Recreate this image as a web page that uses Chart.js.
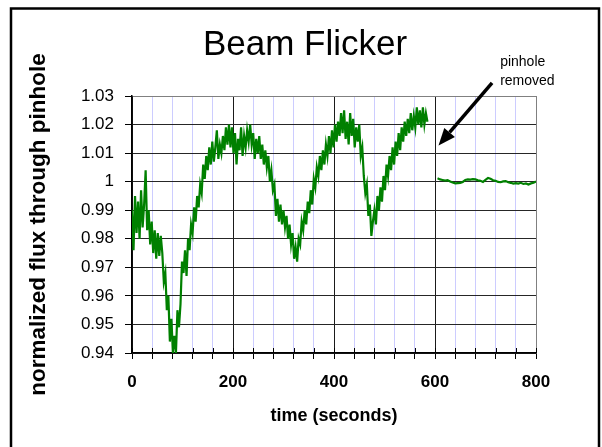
<!DOCTYPE html>
<html>
<head>
<meta charset="utf-8">
<title>Beam Flicker</title>
<script src="https://cdn.jsdelivr.net/npm/chart.js@4.4.1/dist/chart.umd.min.js"></script>
<style>
  html, body { margin: 0; padding: 0; background: #fff; }
  #wrap { position: relative; width: 602px; height: 447px; }
</style>
</head>
<body>
<div id="wrap"><canvas id="flickerChart" width="602" height="447"></canvas></div>
<script>
// flux through the pinhole, one reading every 3 s starting at t = 0
const pinholeStart = 0;
const pinholeStep = 3;
const pinholeFlux = [
  0.990, 0.976, 0.995, 0.982, 0.993, 0.980, 0.997, 0.984, 0.992, 1.004,
  0.983, 0.990, 0.978, 0.986, 0.975, 0.983, 0.973, 0.982, 0.974, 0.981,
  0.975, 0.965, 0.968, 0.955, 0.960, 0.944, 0.952, 0.940, 0.946, 0.940,
  0.955, 0.949, 0.957, 0.972, 0.968, 0.976, 0.967, 0.980, 0.976, 0.985,
  0.982, 0.991, 0.986, 0.995, 0.991, 0.999, 0.996, 1.006, 1.001, 1.009,
  1.004, 1.012, 1.006, 1.014, 1.007, 1.012, 1.018, 1.008, 1.013, 1.010,
  1.016, 1.011, 1.019, 1.013, 1.020, 1.012, 1.019, 1.010, 1.017, 1.006,
  1.015, 1.011, 1.019, 1.009, 1.016, 1.012, 1.018, 1.014, 1.020, 1.013,
  1.017, 1.008, 1.015, 1.010, 1.016, 1.008, 1.013, 1.006, 1.011, 1.005,
  1.009, 1.000, 1.004, 0.997, 0.999, 0.988, 0.994, 0.986, 0.992, 0.985,
  0.990, 0.984, 0.988, 0.980, 0.985, 0.978, 0.982, 0.973, 0.977, 0.972,
  0.980, 0.978, 0.986, 0.983, 0.990, 0.985, 0.993, 0.989, 0.997, 0.992,
  1.001, 0.998, 1.005, 1.002, 1.009, 1.004, 1.011, 1.006, 1.013, 1.009,
  1.016, 1.010, 1.018, 1.012, 1.020, 1.014, 1.021, 1.016, 1.024, 1.017,
  1.025, 1.015, 1.021, 1.013, 1.024, 1.016, 1.022, 1.012, 1.019, 1.014,
  1.020, 1.009, 1.012, 1.002, 0.996, 0.999, 0.988, 0.992, 0.981, 0.986,
  0.990, 0.985, 0.995, 0.990, 0.998, 0.993, 1.002, 0.997, 1.006, 1.002,
  1.009, 1.004, 1.012, 1.006, 1.014, 1.009, 1.017, 1.011, 1.019, 1.014,
  1.021, 1.016, 1.022, 1.017, 1.024, 1.018, 1.023, 1.019, 1.026, 1.020,
  1.025, 1.019, 1.026, 1.020, 1.024, 1.021
];

// flux after the pinhole was removed, every 5 s starting at t = 605
const openStart = 605;
const openStep = 5;
const openFlux = [
  1.0012, 1.0008, 1.0006, 1.0004, 1.0005, 1.0001, 0.9997, 0.9994, 0.9995, 0.9996,
  0.9999, 1.0006, 1.0008, 1.0007, 1.0009, 1.0008, 1.0005, 1.0003, 0.9999, 1.0006,
  1.0013, 1.0010, 1.0005, 1.0003, 0.9999, 0.9998, 1.0001, 1.0002, 0.9998, 0.9996,
  0.9993, 0.9995, 0.9993, 0.9996, 0.9992, 0.9994, 0.9990, 0.9994, 0.9996, 1.0001
];

// axis ranges
const xRange = [0, 800];
const xLabelEvery = 200;
const xGridEvery = 40;
const yRange = [0.94, 1.03];
const yStep = 0.01;

// the "pinhole removed" note, placed in data units
const noteLines = ['pinhole', 'removed'];
const noteAt = [729, 1.0404];
const arrowFrom = [713, 1.0346];
const arrowTo = [607, 1.0127];

const FONT = '"Liberation Sans", Arial, sans-serif';

function toPoints(start, step, values) {
  return values.map((v, i) => ({ x: start + i * step, y: v }));
}

// white page, inner tick marks, outer frame and the arrow note
const framePlugin = {
  id: 'frame',
  beforeDraw(chart) {
    const ctx = chart.ctx;
    ctx.save();
    ctx.fillStyle = '#fff';
    ctx.fillRect(0, 0, chart.width, chart.height);
    ctx.restore();
  },
  beforeDatasetsDraw(chart) {
    // excel style cross ticks: the part inside the plot
    const { ctx, scales: { x }, chartArea } = chart;
    ctx.save();
    ctx.strokeStyle = '#000';
    ctx.lineWidth = 1;
    x.ticks.forEach(t => {
      const px = Math.round(x.getPixelForValue(t.value)) + 0.5;
      ctx.beginPath();
      ctx.moveTo(px, chartArea.bottom - 5);
      ctx.lineTo(px, chartArea.bottom);
      ctx.stroke();
    });
    ctx.restore();
  },
  afterDraw(chart) {
    const { ctx, scales: { x, y } } = chart;
    ctx.save();
    ctx.strokeStyle = '#000';
    ctx.lineWidth = 2.5;
    ctx.strokeRect(11, 8.5, 588, 460);

    ctx.fillStyle = '#000';
    ctx.font = '14px ' + FONT;
    ctx.textAlign = 'left';
    ctx.textBaseline = 'alphabetic';
    const nx = x.getPixelForValue(noteAt[0]);
    const ny = y.getPixelForValue(noteAt[1]);
    noteLines.forEach((t, i) => ctx.fillText(t, nx, ny + i * 19));

    const x0 = x.getPixelForValue(arrowFrom[0]), y0 = y.getPixelForValue(arrowFrom[1]);
    const x1 = x.getPixelForValue(arrowTo[0]), y1 = y.getPixelForValue(arrowTo[1]);
    const ang = Math.atan2(y1 - y0, x1 - x0);
    const headLen = 17, headHalf = 7;
    const bx = x1 - headLen * Math.cos(ang), by = y1 - headLen * Math.sin(ang);
    ctx.lineWidth = 3.5;
    ctx.beginPath();
    ctx.moveTo(x0, y0);
    ctx.lineTo(bx, by);
    ctx.stroke();
    ctx.beginPath();
    ctx.moveTo(x1, y1);
    ctx.lineTo(bx + headHalf * Math.sin(ang), by - headHalf * Math.cos(ang));
    ctx.lineTo(bx - headHalf * Math.sin(ang), by + headHalf * Math.cos(ang));
    ctx.closePath();
    ctx.fill();
    ctx.restore();
  }
};

new Chart(document.getElementById('flickerChart'), {
  type: 'line',
  data: {
    datasets: [
      {
        label: 'pinhole in',
        data: toPoints(pinholeStart, pinholeStep, pinholeFlux),
        borderColor: '#008000',
        borderWidth: 2.2,
        pointRadius: 0,
        tension: 0
      },
      {
        label: 'pinhole removed',
        data: toPoints(openStart, openStep, openFlux),
        borderColor: '#008000',
        borderWidth: 2.2,
        pointRadius: 0,
        tension: 0
      }
    ]
  },
  options: {
    responsive: false,
    animation: false,
    events: [],
    layout: { padding: { left: 12, right: 4, top: 10, bottom: 15 } },
    plugins: {
      legend: { display: false },
      tooltip: { enabled: false },
      title: {
        display: true,
        text: 'Beam Flicker',
        color: '#000',
        font: { family: FONT, size: 35, weight: 'normal' },
        padding: { top: 14, bottom: 30 }
      }
    },
    scales: {
      x: {
        type: 'linear',
        min: xRange[0],
        max: xRange[1],
        afterBuildTicks(scale) {
          const ticks = [];
          for (let v = xRange[0]; v <= xRange[1]; v += xGridEvery) ticks.push({ value: v });
          scale.ticks = ticks;
        },
        ticks: {
          autoSkip: false,
          maxRotation: 0,
          padding: 13,
          color: '#000',
          font: { family: FONT, size: 17, weight: 'bold' },
          callback: v => (v % xLabelEvery === 0 ? String(v) : '')
        },
        grid: {
          color: c => {
            const v = c.tick ? c.tick.value : 0;
            if (v === xRange[1]) return '#808080';
            if (v % xLabelEvery === 0) return '#1a1a1a';
            return '#ccccff';
          },
          lineWidth: 1,
          tickColor: '#000',
          tickLength: 6
        },
        border: { color: '#000', width: 1.5 },
        title: {
          display: true,
          text: 'time (seconds)',
          color: '#000',
          font: { family: FONT, size: 18, weight: 'bold' },
          padding: { top: 0, bottom: 5 }
        }
      },
      y: {
        min: yRange[0],
        max: yRange[1],
        afterFit(scale) { scale.width = 120; },
        ticks: {
          stepSize: yStep,
          padding: 11,
          color: '#000',
          font: { family: FONT, size: 17 },
          callback: v => String(+(+v).toFixed(2))
        },
        grid: {
          color: c => (c.tick && Math.abs(c.tick.value - yRange[1]) < 1e-6 ? '#808080' : '#262626'),
          lineWidth: 1,
          tickColor: '#000',
          tickLength: 7
        },
        border: { color: '#000', width: 1.5 },
        title: {
          display: true,
          text: 'normalized flux through pinhole',
          color: '#000',
          font: { family: FONT, size: 22.5, weight: 'bold' },
          padding: { top: 13, bottom: 0 }
        }
      },
      // empty right-hand strip so the title centres on the whole frame
      yPad: {
        position: 'right',
        min: 0,
        max: 1,
        afterFit(scale) { scale.width = 62; },
        ticks: { display: false },
        grid: { display: false, drawTicks: false },
        border: { display: false }
      }
    }
  },
  plugins: [framePlugin]
});
</script>
</body>
</html>
